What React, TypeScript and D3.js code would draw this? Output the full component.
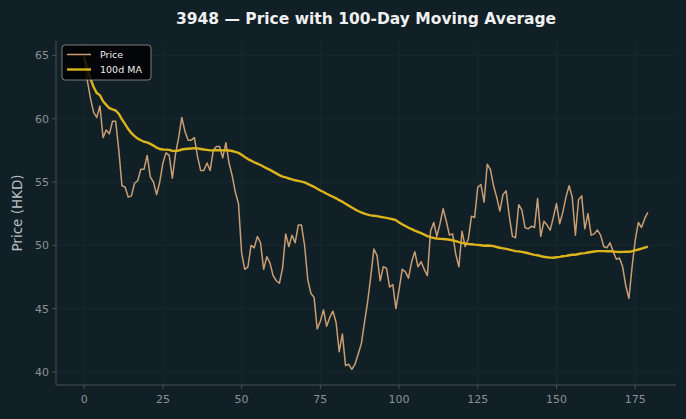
import React from "react";
import * as d3 from "d3";

// Daily closing prices (HKD), trading-day index 0..179
const prices: number[] = [
  64.9, 63.0, 61.6, 60.5, 60.1, 61.0, 58.5, 59.1, 58.8, 59.8,
  59.8, 57.5, 54.7, 54.6, 53.8, 53.9, 54.9, 55.1, 56.0, 56.0,
  57.1, 55.4, 55.0, 54.0, 55.0, 56.5, 57.3, 57.1, 55.3, 57.2,
  58.5, 60.1, 59.0, 58.3, 58.3, 58.5, 57.0, 55.9, 55.9, 56.5,
  55.9, 57.5, 57.8, 57.8, 56.9, 58.1, 56.5, 55.5, 54.2, 53.3,
  49.4, 48.1, 48.3, 50.0, 49.8, 50.7, 50.2, 48.1, 49.1, 48.6,
  47.6, 47.2, 47.0, 48.2, 50.9, 49.9, 50.8, 50.2, 51.6, 51.6,
  50.0, 47.3, 46.2, 45.9, 43.4, 44.0, 44.9, 43.6, 44.3, 44.8,
  43.9, 41.6, 43.0, 40.5, 40.6, 40.2, 40.6, 41.4, 42.2, 43.9,
  45.5, 47.5, 49.7, 49.2, 47.2, 48.3, 48.2, 46.7, 46.9, 45.0,
  46.5, 48.1, 47.9, 47.4, 48.7, 49.5, 48.3, 48.7, 48.1, 47.6,
  51.1, 51.8, 50.7, 51.7, 52.9, 51.9, 50.8, 50.9, 49.3, 48.3,
  51.1, 49.9, 50.5, 52.3, 52.2, 54.6, 54.8, 53.4, 56.4, 56.0,
  54.7, 53.8, 52.7, 54.0, 54.3, 52.3, 50.7, 50.6, 53.2, 52.8,
  51.4, 51.3, 51.5, 51.4, 53.7, 50.7, 51.9, 51.6, 51.2, 52.2,
  53.3, 51.7, 52.6, 53.8, 54.7, 53.8, 50.8, 53.6, 53.9, 51.3,
  52.5, 50.8, 50.9, 51.2, 50.8, 49.9, 49.8, 50.2, 49.5, 48.9,
  49.0, 48.3, 46.8, 45.8, 48.3, 50.4, 51.8, 51.4, 52.1, 52.6,
];

const days: number[] = prices.map((_, i) => i);
const maWindow = 100;

// Trailing moving average (uses whatever history is available at the start)
const movingAvg: number[] = prices.map((_, i) =>
  d3.mean(prices.slice(Math.max(0, i - maWindow + 1), i + 1)) as number
);

const xTicks: number[] = [0, 25, 50, 75, 100, 125, 150, 175];
const yTicks: number[] = [40, 45, 50, 55, 60, 65];

const W = 686;
const H = 419;
const margin = { left: 56, right: 10, top: 41, bottom: 34 };

const BG = "#111f26";
const GRID = "#1c2b32";
const SPINE = "#4a5257";
const TICK_TXT = "#8c9296";
const FONT = "DejaVu Sans, sans-serif";

export default function App() {
  const x0 = d3.min(days)!;
  const x1 = d3.max(days)!;
  const xPad = (x1 - x0) * 0.05;
  const allY = prices.concat(movingAvg);
  const y0 = d3.min(allY)!;
  const y1 = d3.max(allY)!;
  const yPad = (y1 - y0) * 0.05;

  const x = d3
    .scaleLinear()
    .domain([x0 - xPad, x1 + xPad])
    .range([margin.left, W - margin.right]);
  const y = d3
    .scaleLinear()
    .domain([y0 - yPad, y1 + yPad])
    .range([H - margin.bottom, margin.top]);

  const line = d3
    .line<number>()
    .x((_, i) => x(days[i]))
    .y((d) => y(d));

  const plotL = margin.left;
  const plotR = W - margin.right;
  const plotT = margin.top;
  const plotB = H - margin.bottom;

  return (
    <svg
      width={W}
      height={H}
      style={{ position: "absolute", left: 0, top: 0, background: BG }}
      fontFamily={FONT}
    >
      <rect x={0} y={0} width={W} height={H} fill={BG} />

      {/* grid */}
      {xTicks.map((t) => (
        <line key={"gx" + t} x1={x(t)} x2={x(t)} y1={plotT} y2={plotB} stroke={GRID} strokeWidth={0.8} />
      ))}
      {yTicks.map((t) => (
        <line key={"gy" + t} x1={plotL} x2={plotR} y1={y(t)} y2={y(t)} stroke={GRID} strokeWidth={0.8} />
      ))}

      {/* spines */}
      <line x1={plotL} x2={plotL} y1={plotT} y2={plotB} stroke={SPINE} strokeWidth={1} />
      <line x1={plotL} x2={plotR} y1={plotB} y2={plotB} stroke={SPINE} strokeWidth={1} />

      {/* x ticks */}
      {xTicks.map((t) => (
        <g key={"xt" + t}>
          <line x1={x(t)} x2={x(t)} y1={plotB} y2={plotB + 4} stroke={SPINE} />
          <text x={x(t)} y={plotB + 18} textAnchor="middle" fontSize={11} fill={TICK_TXT}>
            {t}
          </text>
        </g>
      ))}

      {/* y ticks */}
      {yTicks.map((t) => (
        <g key={"yt" + t}>
          <line x1={plotL - 4} x2={plotL} y1={y(t)} y2={y(t)} stroke={SPINE} />
          <text x={plotL - 7} y={y(t) + 4} textAnchor="end" fontSize={11} fill={TICK_TXT}>
            {t}
          </text>
        </g>
      ))}

      {/* series */}
      <path d={line(prices) ?? ""} fill="none" stroke="#c99e72" strokeWidth={1.5} strokeLinejoin="round" />
      <path d={line(movingAvg) ?? ""} fill="none" stroke="#dcb41c" strokeWidth={2.4} strokeLinejoin="round" />

      {/* axis label */}
      <text
        transform={`translate(22, ${(plotT + plotB) / 2}) rotate(-90)`}
        textAnchor="middle"
        fontSize={13.5}
        fill="#b9bec1"
      >
        Price (HKD)
      </text>

      {/* title */}
      <text
        x={(plotL + plotR) / 2}
        y={24}
        textAnchor="middle"
        fontSize={15.5}
        fontWeight="bold"
        fill="#f0f0f0"
      >
        3948 — Price with 100-Day Moving Average
      </text>

      {/* legend */}
      <g transform="translate(62, 45)">
        <rect x={0} y={0} width={89} height={35} rx={3} fill="#000000" fillOpacity={0.85} stroke="#9a9a9a" strokeWidth={0.8} />
        <line x1={5} x2={29} y1={9.5} y2={9.5} stroke="#c99e72" strokeWidth={1.5} />
        <text x={38} y={13} fontSize={9.5} fill="#eeeeee">Price</text>
        <line x1={5} x2={29} y1={24.5} y2={24.5} stroke="#dcb41c" strokeWidth={2.4} />
        <text x={38} y={28} fontSize={9.5} fill="#eeeeee">100d MA</text>
      </g>
    </svg>
  );
}
